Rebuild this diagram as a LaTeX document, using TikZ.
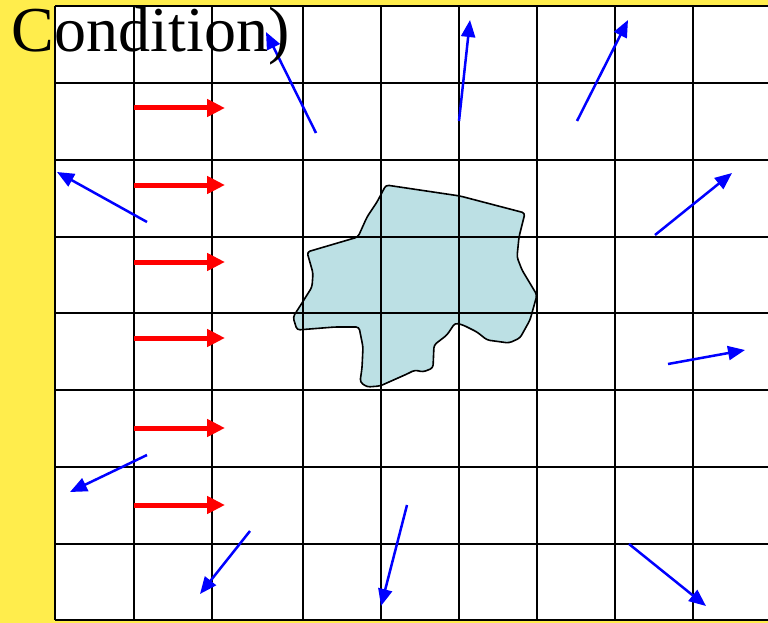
\documentclass[tikz,border=0pt]{standalone}
\usepackage{fontspec}
\setmainfont{Liberation Serif}
\usetikzlibrary{arrows.meta}
\tikzset{
  gridline/.style={draw=black,line width=1.8pt},
  flowarrow/.style={draw={rgb,255:red,255;green,0;blue,0},line width=5pt,-{Triangle[length=18pt,width=17pt]}},
  scatterarrow/.style={draw={rgb,255:red,0;green,0;blue,255},line width=2.5pt,-{Triangle[length=17pt,width=14pt]}}
}
\begin{document}
\begin{tikzpicture}[x=1pt,y=-1pt]
\path[use as bounding box,fill={rgb,255:red,255;green,237;blue,76}] (0,0) rectangle (768,623);
\path[fill=white] (55,6) rectangle (768,620);
% scatterer
\path[fill={rgb,255:red,188;green,224;blue,228},draw=black,line width=1.6pt,rounded corners=3pt]
  (386,185) -- (460,196) -- (525,213) -- (519,237) -- (517,257) -- (522,270) -- (537,295)
  -- (530,320) -- (520,338) -- (509,343) -- (487,340) -- (477,332) -- (463,325) -- (455,323)
  -- (447,335) -- (434,345) -- (433,368) -- (423,372) -- (415,370) -- (407,374) -- (380,386)
  -- (367,387) -- (360,382) -- (362,368) -- (363,347) -- (359,327) -- (335,327) -- (297,330)
  -- (293,317) -- (302,303) -- (312,287) -- (313,273) -- (307,252) -- (358,237) -- (367,217)
  -- (377,202) -- cycle;
% grid
\foreach \gx in {55,134,212,303,381,459,537,615,693}
  \draw[gridline] (\gx,6) -- (\gx,620);
\foreach \gy in {6,83,160,237,313,390,467,544,620}
  \draw[gridline] (55,\gy) -- (768,\gy);
% incident field
\foreach \fy in {108,185,262,338,428,505}
  \draw[flowarrow] (134,\fy) -- (225,\fy);
% scattered field
\foreach \ta/\tb/\ha/\hb in {316/133/266/32, 459/121/470/20, 577/121/628/20, 147/222/57/172,
    655/235/732/173, 668/364/745/350, 147/455/70/492, 250/531/200/594, 407/505/381/606,
    629/544/706/606}
  \draw[scatterarrow] (\ta,\tb) -- (\ha,\hb);
\node[inner sep=0pt,outer sep=0pt,anchor=base west,font=\fontsize{64}{64}\selectfont] (title) at (12,52) {Condition)};
\end{tikzpicture}
\end{document}
